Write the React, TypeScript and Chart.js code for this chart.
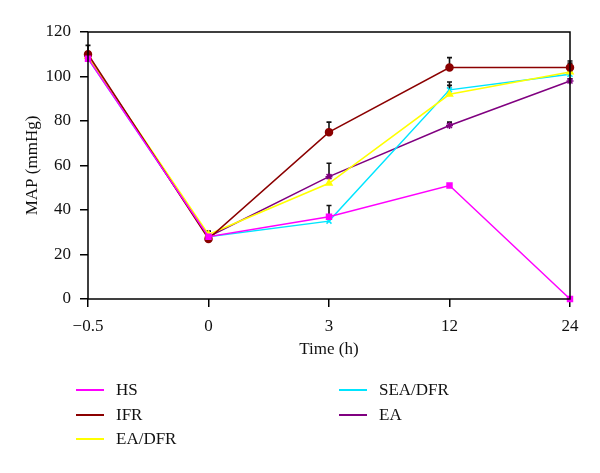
import React, { useEffect, useRef } from "react";
import { Chart, registerables } from "chart.js";
Chart.register(...registerables);

const timeLabels = ["\u22120.5", "0", "3", "12", "24"];
const seriesNames = ["HS", "IFR", "EA/DFR", "SEA/DFR", "EA"];
const hsValues = [108, 28, 37, 51, 0];
const ifrValues = [110, 27, 75, 104, 104];
const eaDfrValues = [109, 29, 52, 92, 102];
const seaDfrValues = [108, 28, 35, 94, 101];
const eaValues = [109, 28, 55, 78, 98];
// upper error bars
const hsErr = [2, 1, 5, 0, 0];
const ifrErr = [4, 1, 4.5, 4.5, 3];
const eaDfrErr = [2, 1.5, 0, 4, 4];
const seaDfrErr = [1, 1, 0, 3.5, 1];
const eaErr = [2, 1, 6, 1.5, 1];

const yTicks = [0, 20, 40, 60, 80, 100, 120];

const colors = ["#ff00ff", "#8b0000", "#ffff00", "#00e5ff", "#800080"];
const pointStyles = ["rect", "circle", "triangle", "crossRot", "star"];
const allValues = [hsValues, ifrValues, eaDfrValues, seaDfrValues, eaValues];
const allErrs = [hsErr, ifrErr, eaDfrErr, seaDfrErr, eaErr];

const FONT = "'Liberation Serif', 'Times New Roman', serif";

export default function App() {
  const ref = useRef<HTMLCanvasElement | null>(null);
  useEffect(() => {
    if (!ref.current) return;
    const plugin = {
      id: "frameAndErrors",
      beforeDatasetsDraw(chart: any) {
        const { ctx, scales } = chart;
        ctx.save();
        ctx.strokeStyle = "#111";
        ctx.lineWidth = 1.6;
        allErrs.forEach((errs, di) => {
          const meta = chart.getDatasetMeta(di);
          errs.forEach((e, i) => {
            if (!e) return;
            const pt = meta.data[i];
            const x = pt.x;
            const y0 = pt.y;
            const y1 = scales.y.getPixelForValue(allValues[di][i] + e);
            ctx.beginPath();
            ctx.moveTo(x, y0);
            ctx.lineTo(x, y1);
            ctx.moveTo(x - 2.5, y1);
            ctx.lineTo(x + 2.5, y1);
            ctx.stroke();
          });
        });
        ctx.restore();
      },
      afterDatasetsDraw(chart: any) {
        const { ctx, chartArea: a } = chart;
        ctx.save();
        ctx.strokeStyle = "#000";
        ctx.lineWidth = 1.5;
        ctx.strokeRect(a.left, a.top, a.right - a.left, a.bottom - a.top);
        ctx.restore();
      },
    };
    const chart = new Chart(ref.current, {
      type: "line",
      data: {
        labels: timeLabels,
        datasets: seriesNames.map((name, i) => ({
          label: name,
          data: allValues[i],
          borderColor: colors[i],
          backgroundColor: colors[i],
          borderWidth: 1.5,
          pointStyle: pointStyles[i] as any,
          pointRadius: 3.5,
          pointBorderWidth: 1.5,
          tension: 0,
          clip: false as any,
        })),
      },
      options: {
        responsive: false,
        animation: false,
        layout: { padding: { left: 22, top: 32, right: 30, bottom: 113 } },
        plugins: { legend: { display: false }, tooltip: { enabled: false } },
        scales: {
          x: {
            type: "category",
            offset: false,
            afterFit: (s: any) => { s.height = 61; },
            grid: { display: true, drawOnChartArea: false, drawTicks: true, tickLength: 8, color: "#000", lineWidth: 1.5 },
            border: { display: false },
            ticks: { color: "#111", font: { family: FONT, size: 17 }, padding: 9, maxRotation: 0 },
            title: { display: true, text: "Time (h)", color: "#111", font: { family: FONT, size: 17 }, padding: 0 },
          },
          y: {
            min: 0,
            max: 120,
            afterFit: (s: any) => { s.width = 66; },
            afterBuildTicks: (s: any) => { s.ticks = yTicks.map((v) => ({ value: v })); },
            grid: { display: true, drawOnChartArea: false, drawTicks: true, tickLength: 8, color: "#000", lineWidth: 1.5 },
            border: { display: false },
            ticks: { color: "#111", font: { family: FONT, size: 17 }, padding: 9 },
            title: { display: true, text: "MAP (mmHg)", color: "#111", font: { family: FONT, size: 17 }, padding: 0 },
          },
        },
      },
      plugins: [plugin],
    });
    return () => chart.destroy();
  }, []);

  const legendPos = [
    { x: 76, y: 390 },
    { x: 76, y: 415 },
    { x: 76, y: 439 },
    { x: 339, y: 390 },
    { x: 339, y: 415 },
  ];

  return (
    <div style={{ position: "absolute", left: 0, top: 0, width: 600, height: 473, background: "#fff" }}>
      <canvas ref={ref} width={600} height={473} style={{ display: "block" }} />
      {seriesNames.map((name, i) => (
        <div key={name} style={{ position: "absolute", left: legendPos[i].x, top: legendPos[i].y - 10, height: 20, display: "flex", alignItems: "center" }}>
          <span style={{ display: "inline-block", width: 28, height: 2, background: colors[i] }} />
          <span style={{ marginLeft: 12, fontFamily: FONT, fontSize: 17, color: "#111", lineHeight: "20px" }}>{name}</span>
        </div>
      ))}
    </div>
  );
}
